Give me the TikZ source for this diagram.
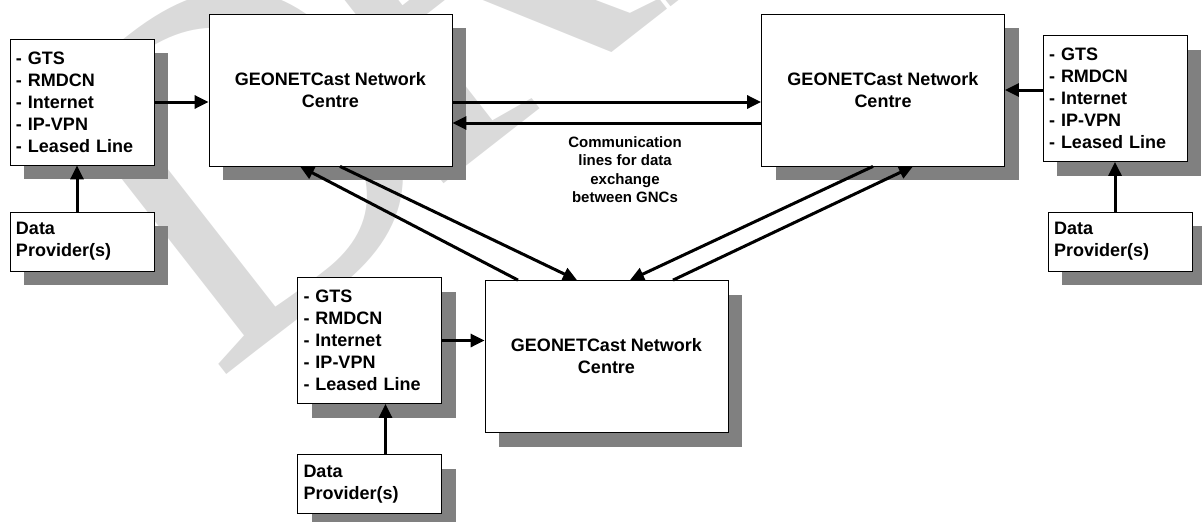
\documentclass[tikz,border=0pt]{standalone}
\usepackage{fontspec}
\setmainfont{Liberation Sans}
\newfontfamily\draftfont{Liberation Serif}
\usetikzlibrary{positioning,shadows,arrows.meta}
\definecolor{shadowgray}{HTML}{808080}
\definecolor{draftgray}{HTML}{DADADA}
\begin{document}
\begin{tikzpicture}[x=1pt, y=-1pt, ->, >={Triangle[length=14pt,width=13pt]}, line width=3pt,
  base_node/.style={draw, fill=white, line width=0.8pt, inner sep=0pt,
    font=\bfseries\fontsize{18}{22}\selectfont,
    general shadow={fill=shadowgray, shadow xshift=14pt, shadow yshift=-14pt}},
  gnc_node/.style={base_node, minimum width=243pt, minimum height=152pt, align=center},
  list_node/.style={base_node, text width=132pt, inner xsep=6pt, minimum height=126pt, align=left},
  dp_node/.style={list_node, minimum height=59pt},
  label_node/.style={align=center, font=\bfseries\fontsize{15}{18.3}\selectfont},
  draft_node/.style={transform shape, anchor=base west, inner sep=0pt, text=draftgray,
    font=\draftfont\fontsize{500}{500}\selectfont}]

  \useasboundingbox (0,0) rectangle (1202,522);
  % watermark behind everything
  \begin{scope}
    \clip (0,0) rectangle (1202,522);
    \begin{scope}[shift={(215,383)}, rotate=38, xscale=0.9]
      \node[draft_node] (draft_d) at (0,0) {D};
      \node[draft_node] (draft_rest) at (317,-16) {RAFT};
    \end{scope}
  \end{scope}

  \node[gnc_node] (gnc1) at (330.5,90) {GEONETCast Network\\Centre};
  \node[gnc_node] (gnc2) at (883,90) {GEONETCast Network\\Centre};
  \node[gnc_node] (gnc3) at (606.5,356.5) {GEONETCast Network\\Centre};

  \node[list_node] (list1) at (82,102) {- GTS\\- RMDCN\\- Internet\\- IP-VPN\\- Leased Line};
  \node[list_node] (list2) at (1115,98.5) {- GTS\\- RMDCN\\- Internet\\- IP-VPN\\- Leased Line};
  \node[list_node] (list3) at (369.5,340.5) {- GTS\\- RMDCN\\- Internet\\- IP-VPN\\- Leased Line};

  \node[dp_node] (dp1) [below of=list1, node distance=139.5pt] {Data\\Provider(s)};
  \node[dp_node] (dp2) [below of=list2, node distance=143pt, xshift=5pt] {Data\\Provider(s)};
  \node[dp_node] (dp3) [below of=list3, node distance=143.5pt] {Data\\Provider(s)};

  \node[label_node] (comm) at (625,169.5) {Communication\\lines for data\\exchange\\between GNCs};

  \path
    (list1.east) edge (list1.east -| gnc1.west)
    ([xshift=-5pt]dp1.north) edge ([xshift=-5pt]list1.south)
    (list2.west |- gnc2.east) edge (gnc2.east)
    (dp2.north -| list2.south) edge (list2.south)
    (list3.east) edge (list3.east -| gnc3.west)
    ([xshift=16pt]dp3.north) edge ([xshift=16pt]dp3.north |- list3.south)
    ([yshift=-12pt]gnc1.east) edge ([yshift=-12pt]gnc2.west)
    ([yshift=-33pt]gnc2.west) edge ([yshift=-33pt]gnc1.east)
    ([xshift=-88.5pt]gnc3.north) edge ([xshift=-30.5pt]gnc1.south)
    ([xshift=9.5pt]gnc1.south) edge ([xshift=-29.5pt]gnc3.north)
    ([xshift=-10pt]gnc2.south) edge ([xshift=23.5pt]gnc3.north)
    ([xshift=66.5pt]gnc3.north) edge ([xshift=30pt]gnc2.south);
\end{tikzpicture}
\end{document}
